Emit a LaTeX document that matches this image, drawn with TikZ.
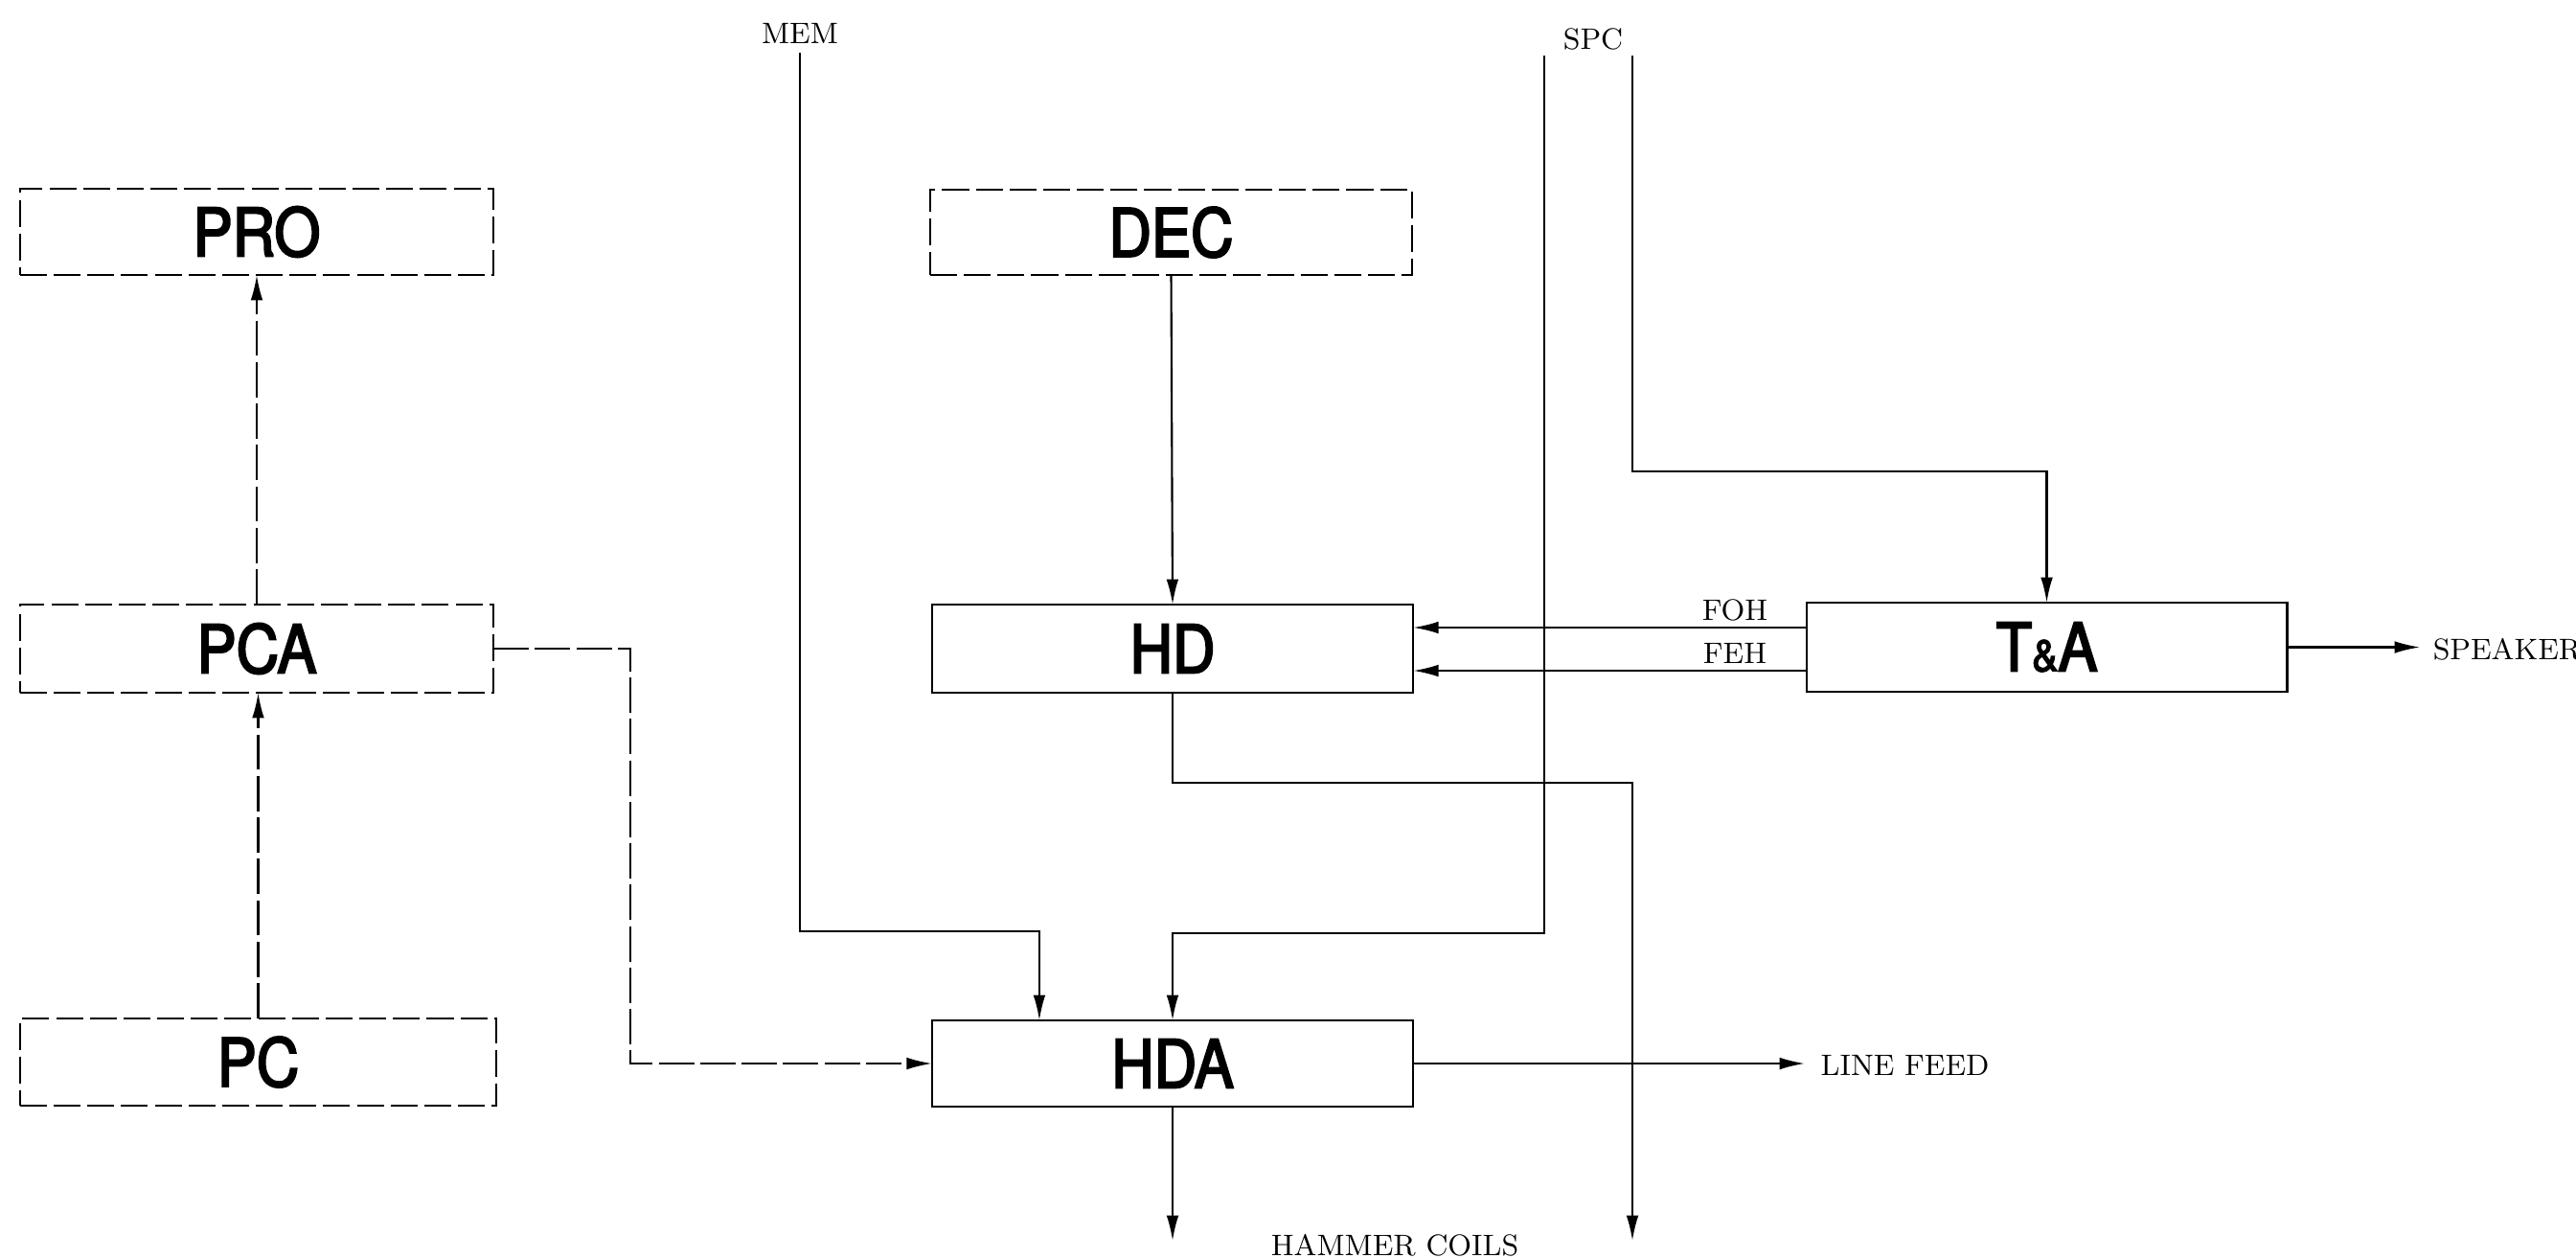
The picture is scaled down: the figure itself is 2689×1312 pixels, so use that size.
\documentclass[tikz,border=0pt]{standalone}
\usepackage{fontspec}
\newfontfamily\boxfont[FakeStretch=0.89,FakeBold=3]{TeX Gyre Heros}
\usetikzlibrary{arrows.meta}
\tikzset{
  dbox/.style={draw, dash pattern=on 8pt off 2pt, line width=0.75pt, inner sep=0pt, outer sep=0pt,
    font=\boxfont\fontsize{19.7}{20}\selectfont},
  sbox/.style={draw, line width=0.75pt, inner sep=0pt, outer sep=0pt,
    font=\boxfont\fontsize{19.7}{20}\selectfont},
  conn/.style={line width=0.6pt, -{Latex[length=7.5pt,width=3.6pt]}},
  dconn/.style={conn, dash pattern=on 10.5pt off 1.8pt},
  lbl/.style={inner sep=0pt, font=\fontsize{8.8}{10}\selectfont},
}
\begin{document}
\begin{tikzpicture}[x=0.01cm,y=-0.01cm]
\useasboundingbox (0,0) rectangle (2689,1312);
% boxes
\node[dbox, minimum width=4.94cm, minimum height=0.90cm] (PRO) at (268,242) {PRO};
\node[dbox, minimum width=4.94cm, minimum height=0.92cm] (PCA) at (268,677) {PCA};
\node[dbox, minimum width=4.97cm, minimum height=0.91cm] (PC) at (269.5,1108.5) {PC};
\node[dbox, minimum width=5.03cm, minimum height=0.89cm] (DEC) at (1222.5,242.5) {DEC};
\node[sbox, minimum width=5.02cm, minimum height=0.92cm] (HD) at (1224,677) {HD};
\node[sbox, minimum width=5.02cm, minimum height=0.90cm] (HDA) at (1224,1110) {HDA};
\node[sbox, minimum width=5.01cm, minimum height=0.93cm] (TA) at (2136.5,675.5) {T{\fontsize{13}{13}\selectfont\&}A};
% labels
\node[lbl] (MEM) at (835,35) {MEM};
\node[lbl] (SPC) at (1663,41) {SPC};
\node[lbl] (FOH) at (1811,637) {FOH};
\node[lbl] (FEH) at (1811,682) {FEH};
\node[lbl, anchor=west] (SPK) at (2539,678) {SPEAKER};
\node[lbl, anchor=west] (LF) at (1900,1112) {LINE FEED};
\node[lbl] (HC) at (1456,1300) {HAMMER COILS};
% coordinates
\coordinate (memtop) at (835,55);
\coordinate (membend) at (835,972);
\coordinate (spcatop) at (1612,58);
\coordinate (spcabend) at (1612,974);
\coordinate (spcbtop) at (1704,58);
\coordinate (spcbbend) at (1704,492);
\coordinate (hdbend) at (1704,817);
\coordinate (hdend) at (1704,1295);
\coordinate (hcend) at (1224,1295);
\coordinate (pcabend) at (658,1110);
\coordinate (spkend) at (2526,675.5);
\coordinate (lfend) at (1884,1110);
% connectors
\draw[dconn] (PC.north) -- (PCA.south -| PC.north);
\draw[dconn] (PCA.north) -- (PRO.south);
\draw[dconn] (PCA.east) -| (pcabend) -- (HDA.west);
\draw[conn] (DEC.south) -- (HD.north);
\draw[conn] (memtop) -- (membend) -| ([xshift=-1.39cm]HDA.north);
\draw[conn] (spcatop) -- (spcabend) -| (HDA.north);
\draw[conn] (spcbtop) -- (spcbbend) -| (TA.north);
\draw[conn] ([yshift=0.205cm]TA.west) -- ([yshift=0.205cm]TA.west -| HD.east);
\draw[conn] ([yshift=-0.245cm]TA.west) -- ([yshift=-0.245cm]TA.west -| HD.east);
\draw[conn] (TA.east) -- (spkend);
\draw[conn] (HD.south) |- (hdbend) -- (hdend);
\draw[conn] (HDA.south) -- (hcend);
\draw[conn] (HDA.east) -- (lfend);
\end{tikzpicture}
\end{document}
